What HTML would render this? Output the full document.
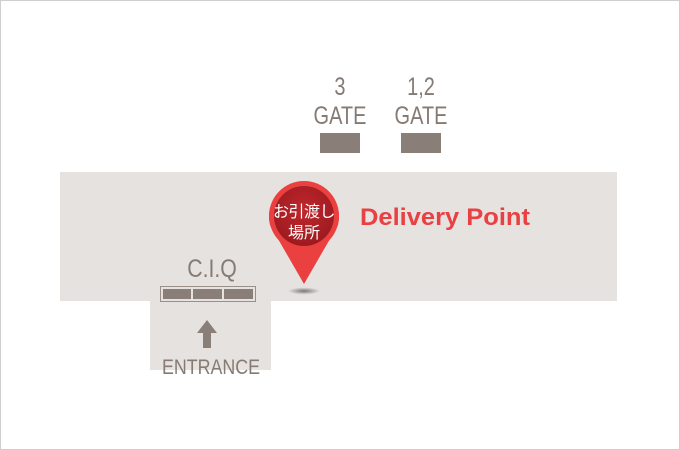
<!DOCTYPE html>
<html><head><meta charset="utf-8"><style>
body{margin:0;width:680px;height:450px;overflow:hidden;background:#fff}
svg{display:block}
.n{font-family:"Liberation Sans",sans-serif;fill:#857b74}
</style></head><body>
<svg width="680" height="450" viewBox="0 0 680 450">
<defs>
<radialGradient id="g" cx="0.5" cy="0.4" r="0.6">
<stop offset="0" stop-color="#c0272d"/><stop offset="1" stop-color="#9c1a1f"/>
</radialGradient>
<radialGradient id="s"><stop offset="0" stop-color="#777"/><stop offset="1" stop-color="#777" stop-opacity="0"/></radialGradient>
</defs>
<rect x="0.5" y="0.5" width="679" height="449" fill="#fff" stroke="#cfcfcf"/>
<rect x="60" y="172" width="557" height="129" fill="#e5e2df"/>
<rect x="150" y="300" width="121" height="70" fill="#e5e2df"/>
<g transform="translate(340,0) scale(0.8,1)">
<text x="0" y="95" text-anchor="middle" class="n" font-size="25">3</text>
<text x="0" y="124" text-anchor="middle" class="n" font-size="25">GATE</text>
</g>
<g transform="translate(421,0) scale(0.8,1)">
<text x="0" y="95" text-anchor="middle" class="n" font-size="25">1,2</text>
<text x="0" y="124" text-anchor="middle" class="n" font-size="25">GATE</text>
</g>
<rect x="320" y="133" width="40" height="20" fill="#8a7f78"/>
<rect x="401" y="133" width="40" height="20" fill="#8a7f78"/>
<text transform="translate(212,0) scale(0.85,1)" x="0" y="277" text-anchor="middle" class="n" font-size="25">C.I.Q</text>
<rect x="160.5" y="286.5" width="95" height="15" fill="#e5e2df" stroke="#9a908a"/>
<rect x="163" y="289" width="28" height="10" fill="#8a7f78"/>
<rect x="193" y="289" width="29" height="10" fill="#8a7f78"/>
<rect x="224" y="289" width="29" height="10" fill="#8a7f78"/>
<polygon points="207,320 217,333 211,333 211,348 203,348 203,333 197,333" fill="#8a7f78"/>
<text transform="translate(211,0) scale(0.85,1)" x="0" y="374" text-anchor="middle" class="n" font-size="21">ENTRANCE</text>
<ellipse cx="304" cy="291" rx="16" ry="3.5" fill="url(#s)"/>
<path d="M270,225 A35,35 0 1 1 338,225 L304,284 Z" fill="#ea4040"/>
<circle cx="304" cy="216" r="35" fill="#ea4040"/>
<circle cx="304" cy="216" r="30" fill="url(#g)"/>
<text x="304" y="217" text-anchor="middle" font-family="'Noto Sans CJK JP',sans-serif" font-size="16" fill="#fff" letter-spacing="-0.5">お引渡し</text>
<text x="304" y="238" text-anchor="middle" font-family="'Noto Sans CJK JP',sans-serif" font-size="16" fill="#fff">場所</text>
<text x="360" y="225" font-family="'Liberation Sans',sans-serif" font-weight="bold" font-size="24" fill="#e84043" textLength="170" lengthAdjust="spacingAndGlyphs">Delivery Point</text>
</svg>
</body></html>
